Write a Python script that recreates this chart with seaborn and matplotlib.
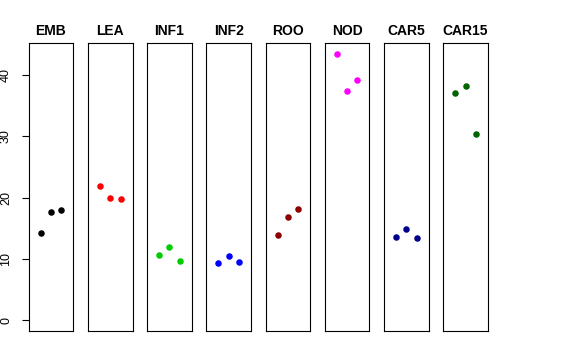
import matplotlib
matplotlib.use("Agg")
import matplotlib.pyplot as plt
import seaborn as sns
import pandas as pd

tissues = ["EMB", "LEA", "INF1", "INF2", "ROO", "NOD", "CAR5", "CAR15"]
colors = ["#000000", "#FF0000", "#00CD00", "#0000FF", "#8B0000", "#FF00FF", "#00008B", "#006400"]
replicate = [1, 2, 3]
EMB = [14.25, 17.7, 17.9]
LEA = [21.97, 19.85, 19.7]
INF1 = [10.7, 11.85, 9.68]
INF2 = [9.35, 10.44, 9.41]
ROO = [13.92, 16.75, 18.17]
NOD = [43.45, 37.4, 39.15]
CAR5 = [13.54, 14.79, 13.33]
CAR15 = [37.08, 38.17, 30.34]
values = [EMB, LEA, INF1, INF2, ROO, NOD, CAR5, CAR15]
yticks = [0, 10, 20, 30, 40]

sns.set_theme(style="white")
plt.rcParams["font.family"] = ["Liberation Sans", "DejaVu Sans"]
plt.rcParams["text.color"] = "black"
plt.rcParams["axes.labelcolor"] = "black"
plt.rcParams["xtick.color"] = "black"
plt.rcParams["ytick.color"] = "black"

fig, axes = plt.subplots(1, 8, figsize=(5.76, 3.6), dpi=100, sharey=True)
fig.subplots_adjust(left=0.0498, right=0.847, top=0.8797, bottom=0.0814, wspace=0.328)

ymax = max(max(v) for v in values)
yr = ymax * 0.04
for i, (ax, t, c, v) in enumerate(zip(axes, tissues, colors, values)):
    df = pd.DataFrame({"rep": replicate, "val": v})
    sns.scatterplot(data=df, x="rep", y="val", color=c, s=22, linewidth=0, ax=ax)
    ax.set_xlim(2 - 2.165, 2 + 2.165)
    ax.set_ylim(-yr, ymax + yr)
    ax.set_xlabel("")
    ax.set_ylabel("")
    ax.set_xticks([])
    ax.set_title(t, fontsize=10, fontweight="bold", pad=6, color="black")
    for sp in ax.spines.values():
        sp.set_color("black")
        sp.set_linewidth(0.8)
    if i == 0:
        ax.set_yticks(yticks)
        ax.tick_params(axis="y", left=True, length=5, width=0.8, pad=7, labelsize=9, color="black", labelcolor="black")
        for lab in ax.get_yticklabels():
            lab.set_rotation(90)
            lab.set_va("center")
    else:
        ax.tick_params(axis="y", left=False, labelleft=False)

fig.savefig("out.png", dpi=100)
